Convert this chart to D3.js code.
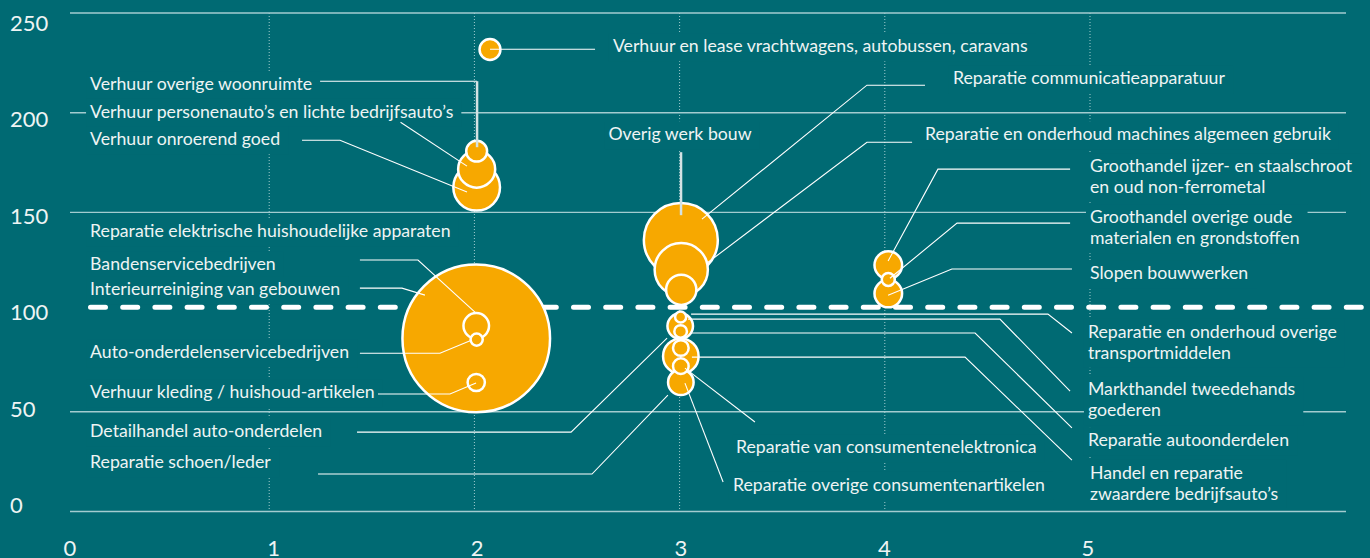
<!DOCTYPE html>
<html><head><meta charset="utf-8">
<script src="https://cdn.jsdelivr.net/npm/d3@7"></script>
<style>
html,body{margin:0;padding:0;background:#006a73;overflow:hidden;}
svg{display:block;}
text{font-family:Lato,"Open Sans",sans-serif;}
</style></head><body>
<svg id="chart" width="1370" height="558"></svg>
<script>
// ---------- DATA ----------
const bubbleNames = [
  "Verhuur en lease vrachtwagens, autobussen, caravans",
  "Verhuur overige woonruimte",
  "Verhuur personenauto’s en lichte bedrijfsauto’s",
  "Verhuur onroerend goed",
  "Interieurreiniging van gebouwen",
  "Bandenservicebedrijven",
  "Auto-onderdelenservicebedrijven",
  "Verhuur kleding / huishoud-artikelen",
  "Overig werk bouw",
  "Reparatie en onderhoud machines algemeen gebruik",
  "Reparatie communicatieapparatuur",
  "Reparatie en onderhoud overige transportmiddelen",
  "Markthandel tweedehands goederen",
  "Reparatie autoonderdelen",
  "Handel en reparatie zwaardere bedrijfsauto’s",
  "Detailhandel auto-onderdelen",
  "Reparatie van consumentenelektronica",
  "Reparatie overige consumentenartikelen",
  "Groothandel ijzer- en staalschroot en oud non-ferrometal",
  "Groothandel overige oude materialen en grondstoffen",
  "Slopen bouwwerken"
];
const bubbleX = [2.076, 2.011, 2.011, 2.011, 2.009, 2.009, 2.011, 2.009,
  3.006, 3.008, 3.008, 3.003, 3.005, 3.005, 3.006, 3.006, 3.006, 3.006,
  4.017, 4.017, 4.017];
const bubbleY = [231.7, 180.7, 171.7, 162.6, 86.8, 93.1, 86.2, 64.7,
  136.2, 121.3, 111.2, 93.0, 97.5, 90.3, 77.9, 82.0, 72.9, 64.8,
  123.6, 116.4, 109.3];
const bubbleSize = [2.0, 2.0, 6.3, 10.0, 100, 3.0, 0.68, 1.36,
  25.1, 13.0, 4.2, 3.0, 0.56, 0.73, 5.8, 1.12, 1.12, 3.0,
  3.5, 0.78, 3.5];

const xTicks = [0, 1, 2, 3, 4, 5];
const yTicks = [0, 50, 100, 150, 200, 250];
const referenceValue = 102.4;

// ---------- ANNOTATION LAYOUT (data units) ----------
const labelLines = [
  ["Verhuur overige woonruimte"],
  ["Verhuur personenauto’s en lichte bedrijfsauto’s"],
  ["Verhuur onroerend goed"],
  ["Reparatie elektrische huishoudelijke apparaten"],
  ["Bandenservicebedrijven"],
  ["Interieurreiniging van gebouwen"],
  ["Auto-onderdelenservicebedrijven"],
  ["Verhuur kleding / huishoud-artikelen"],
  ["Detailhandel auto-onderdelen"],
  ["Reparatie schoen/leder"],
  ["Verhuur en lease vrachtwagens, autobussen, caravans"],
  ["Reparatie communicatieapparatuur"],
  ["Overig werk bouw"],
  ["Reparatie en onderhoud machines algemeen gebruik"],
  ["Groothandel ijzer- en staalschroot", "en oud non-ferrometal"],
  ["Groothandel overige oude", "materialen en grondstoffen"],
  ["Slopen bouwwerken"],
  ["Reparatie en onderhoud overige", "transportmiddelen"],
  ["Markthandel tweedehands", "goederen"],
  ["Reparatie autoonderdelen"],
  ["Handel en reparatie", "zwaardere bedrijfsauto’s"],
  ["Reparatie van consumentenelektronica"],
  ["Reparatie overige consumentenartikelen"]
];
const labelPosX = [0.127,0.127,0.127,0.127,0.127,0.127,0.127,0.127,0.127,0.127,
  2.675, 4.332, 3.002, 4.196, 5.0, 5.0, 5.0, 4.990, 4.990, 4.990, 5.0, 3.275, 3.260];
const labelPosY = [211.3,197.5,183.7,137.6,121.1,108.5,76.9,56.9,37.3,21.8,
  230.3, 214.3, 186.2, 186.2, 170.2, 144.6, 116.5, 87.1, 58.4, 32.8, 16.3, 29.3, 10.3];
const labelAnchor = ["start","start","start","start","start","start","start","start","start","start",
  "start","start","middle","start","start","start","start","start","start","start","start","start","start"];

const leaderPaths = [
  [[1.248,215.8],[2.013,215.8]],
  [[1.640,195.2],[1.964,173.2]],
  [[1.160,186.2],[1.345,186.2],[1.964,160.2]],
  [[1.442,126.1],[1.725,126.1],[2.008,99.5]],
  [[1.442,112.0],[1.647,112.0],[1.759,108.5]],
  [[1.442,79.4],[1.832,79.4],[1.988,86.0]],
  [[1.530,58.9],[1.881,58.9],[2.008,64.4]],
  [[1.428,39.8],[2.471,39.8],[2.939,87.0]],
  [[1.238,18.8],[2.573,18.8],[2.943,58.4]],
  [[2.076,231.8],[2.588,231.8]],
  [[4.196,213.8],[3.913,213.8],[3.109,146.6]],
  [[4.133,185.2],[3.913,185.2],[3.134,124.6]],
  [[4.903,171.7],[4.259,171.7],[4.016,125.6]],
  [[4.903,144.6],[4.352,144.6],[4.025,117.0]],
  [[4.912,121.6],[4.327,121.6],[4.016,108.5]],
  [[3.056,99.0],[4.795,99.0],[4.912,89.5]],
  [[3.041,96.5],[4.561,96.5],[4.903,60.4]],
  [[3.051,89.5],[4.440,89.5],[4.912,41.9]],
  [[3.060,77.4],[4.391,77.4],[4.912,25.8]],
  [[3.026,71.9],[3.367,44.9]],
  [[3.026,64.4],[3.212,14.8]]
];
const stemPaths = [
  [[2.013,215.8],[2.013,182.7]],
  [[3.007,180.2],[3.007,148.6]]
];

// ---------- CHART ----------
const svg = d3.select("#chart");
const BG = "#006a73";
const GRID = "#a3ccd0";
const TXT = "#eef4f4";

const x = d3.scaleLinear().domain([0, 5]).range([64, 1090]);
const y = d3.scaleLinear().domain([0, 250]).range([511.5, 13]);
const r = d3.scaleSqrt().domain([0, 100]).range([0, 73.8]);
const xLab = d3.scaleLinear().domain([0, 5]).range([70, 1088]);
const yLab = d3.scaleLinear().domain([0, 250]).range([513, 31]);

svg.append("rect").attr("width", 1370).attr("height", 558).attr("fill", BG);

// horizontal grid
svg.append("g").selectAll("line").data(yTicks.filter(v => v !== 100)).join("line")
  .attr("x1", 70).attr("x2", 1346)
  .attr("y1", d => y(d)).attr("y2", d => y(d))
  .attr("stroke", GRID).attr("stroke-width", 1.4);

// vertical dotted
svg.append("g").selectAll("line").data(xTicks.filter(v => v > 0)).join("line")
  .attr("x1", d => x(d)).attr("x2", d => x(d))
  .attr("y1", y(250)).attr("y2", y(0))
  .attr("stroke", GRID).attr("stroke-width", 1).attr("stroke-dasharray", "1,2");

// reference dashed line
svg.append("line")
  .attr("x1", 90.5).attr("x2", 1362.5)
  .attr("y1", y(referenceValue)).attr("y2", y(referenceValue))
  .attr("stroke", "#ffffff").attr("stroke-width", 5)
  .attr("stroke-linecap", "round").attr("stroke-dasharray", "15,17.2");

// tick labels
svg.append("g").selectAll("text").data(yTicks).join("text")
  .attr("x", 10).attr("y", d => yLab(d))
  .attr("fill", TXT).attr("font-size", 22).text(d => d);
svg.append("g").selectAll("text").data(xTicks).join("text")
  .attr("x", d => xLab(d)).attr("y", 556).attr("text-anchor", "middle")
  .attr("fill", TXT).attr("font-size", 22).text(d => d);

const boxG = svg.append("g");
const bubbleG = svg.append("g");
const leaderG = svg.append("g");
const labelG = svg.append("g");

const LH = 21;
labelLines.forEach((lines, i) => {
  const t = labelG.append("text")
    .attr("x", x(labelPosX[i])).attr("y", y(labelPosY[i]))
    .attr("text-anchor", labelAnchor[i])
    .attr("fill", TXT).attr("font-size", 17.7);
  lines.forEach((ln, j) => {
    t.append("tspan").attr("x", x(labelPosX[i])).attr("dy", j === 0 ? 0 : LH).text(ln);
  });
  const bb = t.node().getBBox();
  const base = y(labelPosY[i]);
  boxG.append("rect")
    .attr("x", bb.x - 4).attr("width", bb.width + 12)
    .attr("y", base - 19).attr("height", 28 + (lines.length - 1) * LH)
    .attr("fill", BG);
});

// bubbles
const bubbles = bubbleNames.map((n, i) => ({ name: n, x: bubbleX[i], y: bubbleY[i], s: bubbleSize[i] }))
  .sort((a, b) => b.s - a.s);
bubbleG.selectAll("circle").data(bubbles).join("circle")
  .attr("cx", d => x(d.x)).attr("cy", d => y(d.y)).attr("r", d => r(d.s))
  .attr("fill", "#f7a800").attr("stroke", "#ffffff").attr("stroke-width", 2.5);

// leaders
const line = d3.line().x(p => x(p[0])).y(p => y(p[1]));
leaderG.selectAll("path.l").data(leaderPaths).join("path").attr("class", "l")
  .attr("d", line).attr("fill", "none").attr("stroke", "#ffffff").attr("stroke-width", 1.1);
leaderG.selectAll("path.s").data(stemPaths).join("path").attr("class", "s")
  .attr("d", line).attr("fill", "none").attr("stroke", "#d4e2e3").attr("stroke-width", 2.5);
</script>
</body></html>
